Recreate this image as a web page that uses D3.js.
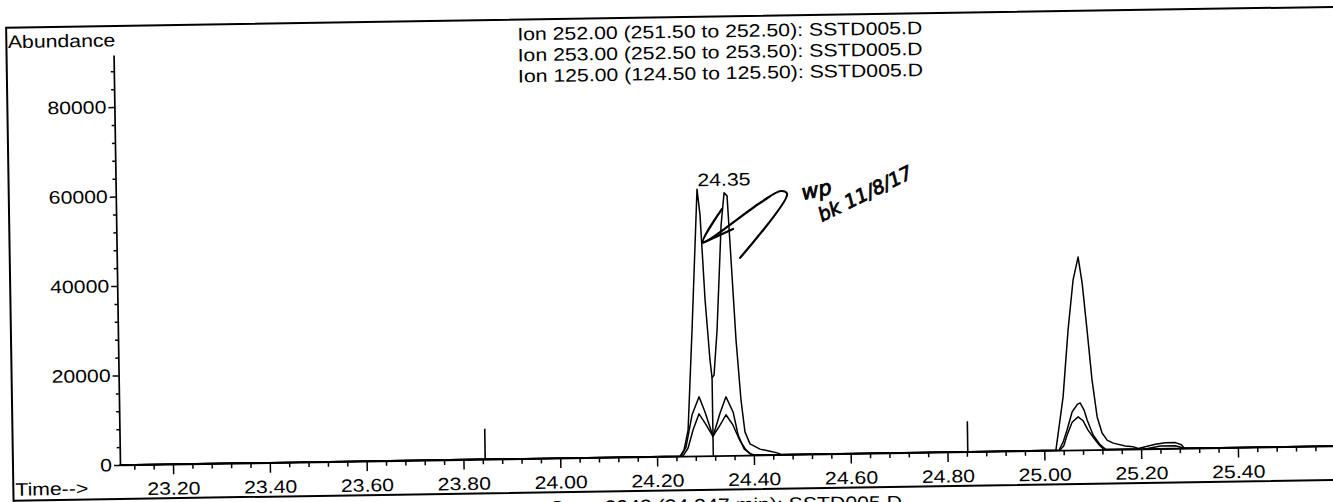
<!DOCTYPE html>
<html>
<head>
<meta charset="utf-8">
<script src="https://cdn.jsdelivr.net/npm/d3@7/dist/d3.min.js"></script>
<style>
html,body{margin:0;padding:0;background:#fff;}
svg{display:block;}
text{font-family:"Liberation Sans",Arial,Helvetica,sans-serif;fill:#000;}
</style>
</head>
<body>
<svg id="chart" width="1333" height="502"></svg>
<script>
// ---------------- data ----------------
const titleLines = [
  "Ion 252.00 (251.50 to 252.50): SSTD005.D",
  "Ion 253.00 (252.50 to 253.50): SSTD005.D",
  "Ion 125.00 (124.50 to 125.50): SSTD005.D"
];
const yAxisTitle = "Abundance";
const xAxisTitle = "Time-->";
const scanLine = "Scan 2942 (24.347 min): SSTD005.D";

const xTickValues = [23.2, 23.4, 23.6, 23.8, 24.0, 24.2, 24.4, 24.6, 24.8, 25.0, 25.2, 25.4];
const xTickLabels = ["23.20", "23.40", "23.60", "23.80", "24.00", "24.20", "24.40", "24.60", "24.80", "25.00", "25.20", "25.40"];
const yTickValues = [0, 20000, 40000, 60000, 80000];
const yTickLabels = ["0", "20000", "40000", "60000", "80000"];

// Ion 252 trace
const ion252Time = [23.09, 24.2476, 24.2560, 24.2650, 24.2764, 24.2912, 24.2966, 24.3043, 24.3125, 24.3162,
  24.3204, 24.3281, 24.3398, 24.3470, 24.3530, 24.3592, 24.3669, 24.3752, 24.3824, 24.3924,
  24.4129, 24.4336, 24.4480, 24.4580, 25.0240, 25.0406, 25.0530, 25.0650, 25.0761, 25.0836,
  25.0922, 25.1009, 25.1103, 25.1200, 25.1302, 25.1427, 25.1674, 25.1840, 25.1944, 25.2089,
  25.2296, 25.2502, 25.2709, 25.2833, 25.2895, 25.60];
const ion252Abund = [0, 0, 1400, 5800, 28200, 59600, 53800, 34800, 21400, 17400,
  18000, 28100, 51500, 58700, 58000, 43700, 25800, 12400, 5200, 2500,
  1300, 800, 400, 0, 0, 11900, 26800, 38000, 43100, 37300,
  26800, 15600, 7300, 3700, 2100, 1400, 700, 500, 100, 500,
  1000, 1300, 1300, 800, 0, 0];

// Ion 253 trace
const ion253Time = [23.09, 24.2497, 24.2601, 24.2737, 24.2887, 24.3005, 24.3163, 24.3316, 24.3443, 24.3585,
  24.3682, 24.3801, 24.3920, 24.4022, 25.0302, 25.0392, 25.0477, 25.0587, 25.0698, 25.0756,
  25.0835, 25.0894, 25.1013, 25.1155, 25.1273, 25.2089, 25.2399, 25.2709, 25.2895, 25.60];
const ion253Abund = [0, 0, 2000, 9200, 13200, 9800, 4300, 9500, 13100, 9700,
  4500, 1400, 300, 0, 0, 1800, 4500, 8500, 10200, 10500,
  8900, 6700, 3300, 1100, 0, 0, 600, 600, 0, 0];

// Ion 125 trace
const ion125Time = [23.09, 24.2535, 24.2644, 24.2752, 24.2881, 24.3003, 24.3161, 24.3312, 24.3437, 24.3577,
  24.3720, 24.3840, 24.3961, 25.0322, 25.0405, 25.0477, 25.0584, 25.0710, 25.0812, 25.0910,
  25.1054, 25.1155, 25.1232, 25.60];
const ion125Abund = [0, 0, 1800, 5800, 9400, 7300, 4300, 6800, 9100, 6800,
  3200, 1200, 0, 0, 1000, 3400, 6200, 7400, 6500, 4400,
  2200, 800, 0, 0];

// integration markers and drop line
const markerTimes = [23.845, 24.842];
const markerAbund = 6800;
const dropTimes = [24.3162];
const peakLabelTimes = [24.347];
const peakLabelTexts = ["24.35"];

// hand-drawn annotation stroke (in data units)
const noteStrokeTime = [24.3779, 24.4771, 24.4646, 24.4208, 24.3020, 24.3423];
const noteStrokeAbund = [44100, 58200, 58900, 56300, 47800, 55100];
const noteStroke2Time = [24.3020, 24.3644];
const noteStroke2Abund = [47600, 50600];

// ---------------- drawing ----------------
const svg = d3.select("#chart");
const STRETCH = 1.18;
function stretch(sel) {
  sel.each(function () {
    const L = this.getComputedTextLength();
    d3.select(this).attr("textLength", L * STRETCH).attr("lengthAdjust", "spacingAndGlyphs");
  });
}

const g = svg.append("g").attr("transform", "rotate(-0.9,120,465)");

const pxPerMin = 484.1;
const x = d3.scaleLinear().domain([23.0905, 25.6]).range([120, 120 + (25.6 - 23.0905) * pxPerMin]);
const y = d3.scaleLinear().domain([0, 91620]).range([465, 55]);

// frame
g.append("path")
  .attr("d", "M1420,26 H13 V530 M13,499 H1420")
  .attr("fill", "none").attr("stroke", "#000").attr("stroke-width", 2);

// axes
const fs = 18;
const xMinor = d3.range(0, 62).map(i => +(23.12 + i * 0.04).toFixed(2))
  .filter(v => !xTickValues.some(t => Math.abs(t - v) < 1e-6));
const yMinor = d3.range(0, 23).map(i => i * 4000).filter(v => !yTickValues.includes(v));

const xAxis = g.append("g").attr("transform", `translate(0,${y(0)})`)
  .call(d3.axisBottom(x).tickValues(xTickValues).tickFormat((d, i) => xTickLabels[i])
    .tickSize(10).tickSizeOuter(0).tickPadding(7.7));
xAxis.append("g").call(d3.axisBottom(x).tickValues(xMinor).tickFormat("").tickSize(5).tickSizeOuter(0))
  .select(".domain").remove();

const yAxis = g.append("g").attr("transform", `translate(${x.range()[0]},0)`)
  .call(d3.axisLeft(y).tickValues(yTickValues).tickFormat((d, i) => yTickLabels[i])
    .tickSize(6).tickSizeOuter(0).tickPadding(2));
yAxis.append("g").call(d3.axisLeft(y).tickValues(yMinor).tickFormat("").tickSize(3).tickSizeOuter(0))
  .select(".domain").remove();

[xAxis, yAxis].forEach(a => {
  a.selectAll(".domain").attr("stroke", "#000").attr("stroke-width", 1.7);
  a.selectAll(".tick line").attr("stroke", "#000").attr("stroke-width", 1.5);
  a.selectAll("text").attr("fill", "#000")
    .style("font-family", '"Liberation Sans",Arial,sans-serif').style("font-size", fs + "px");
});
stretch(xAxis.selectAll(".tick text"));
stretch(yAxis.selectAll(".tick text"));

// axis titles
g.append("text").attr("x", 14.5).attr("y", 46.4).style("font-size", fs + "px").text(yAxisTitle).call(stretch);
g.append("text").attr("x", 15).attr("y", 494).style("font-size", fs + "px").text(xAxisTitle).call(stretch);

// title lines
g.append("g").selectAll("text").data(titleLines).join("text")
  .attr("x", 524).attr("y", (d, i) => 46.7 + i * 21)
  .style("font-size", fs + "px").text(d => d).call(stretch);

// scan caption (cut by the page edge)
g.append("text").attr("x", 549.5).attr("y", 520.5).style("font-size", fs + "px").text(scanLine).call(stretch);

// traces
const line = d3.line().x(d => x(d[0])).y(d => y(d[1]));
const traces = [
  d3.zip(ion252Time, ion252Abund),
  d3.zip(ion253Time, ion253Abund),
  d3.zip(ion125Time, ion125Abund)
];
g.append("g").selectAll("path").data(traces).join("path")
  .attr("d", line).attr("fill", "none").attr("stroke", "#000")
  .attr("stroke-width", 1.5).attr("stroke-linejoin", "round");

// drop line at valley
function interp(times, vals, t) {
  const i = d3.bisectLeft(times, t);
  if (i <= 0) return vals[0];
  if (i >= times.length) return vals[vals.length - 1];
  const t0 = times[i - 1], t1 = times[i];
  return vals[i - 1] + (vals[i] - vals[i - 1]) * (t - t0) / (t1 - t0);
}
g.append("g").selectAll("line").data(dropTimes).join("line")
  .attr("x1", d => x(d)).attr("x2", d => x(d))
  .attr("y1", y(0)).attr("y2", d => y(interp(ion252Time, ion252Abund, d)))
  .attr("stroke", "#000").attr("stroke-width", 1.5);

// markers
g.append("g").selectAll("line").data(markerTimes).join("line")
  .attr("x1", d => x(d)).attr("x2", d => x(d))
  .attr("y1", y(0)).attr("y2", y(markerAbund))
  .attr("stroke", "#000").attr("stroke-width", 1.6);

// peak label
g.append("g").selectAll("text").data(peakLabelTimes).join("text")
  .attr("x", d => x(d)).attr("text-anchor", "middle")
  .attr("y", d => {
    const near = ion252Time.map((t, i) => Math.abs(t - d) < 0.06 ? ion252Abund[i] : 0);
    return y(d3.max(near)) - 3;
  })
  .style("font-size", fs + "px").text((d, i) => peakLabelTexts[i]).call(stretch);

// hand-drawn annotation
const noteLine = d3.line().x(d => x(d[0])).y(d => y(d[1])).curve(d3.curveCatmullRom);
g.append("path").datum(d3.zip(noteStrokeTime, noteStrokeAbund)).attr("d", noteLine)
  .attr("fill", "none").attr("stroke", "#000").attr("stroke-width", 2.2).attr("stroke-linecap", "round");
g.append("path").datum(d3.zip(noteStroke2Time, noteStroke2Abund)).attr("d", noteLine)
  .attr("fill", "none").attr("stroke", "#000").attr("stroke-width", 2.2).attr("stroke-linecap", "round");

svg.append("text").attr("transform", "translate(803,200) rotate(-12)")
  .style("font-family", '"DejaVu Sans",sans-serif').style("font-style", "italic").style("font-size", "21px")
  .attr("stroke", "#000").attr("stroke-width", 0.8).text("wp");
svg.append("text").attr("transform", "translate(822,222) rotate(-26)")
  .style("font-family", '"DejaVu Sans",sans-serif').style("font-style", "italic").style("font-size", "19px")
  .attr("stroke", "#000").attr("stroke-width", 0.8).text("bk 11/8/17");
</script>
</body>
</html>
